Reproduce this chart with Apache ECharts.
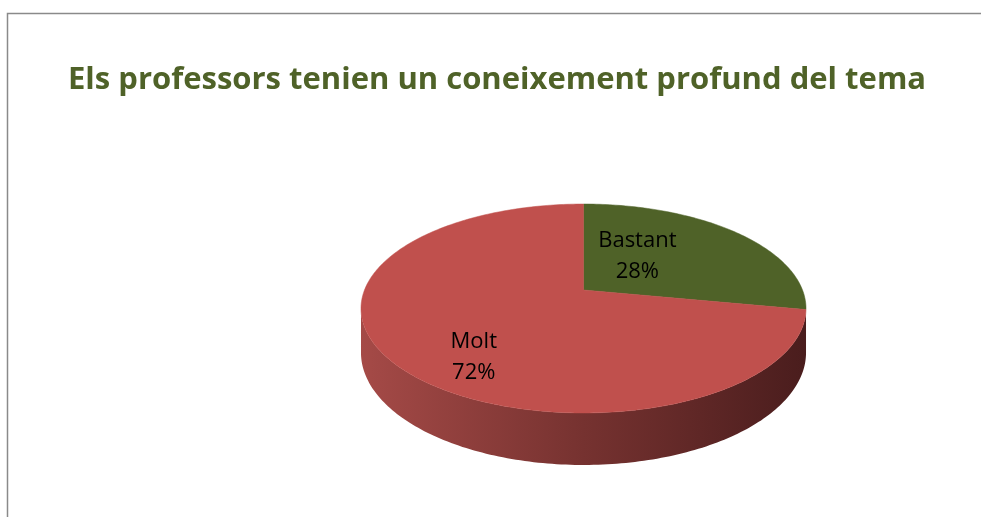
<!DOCTYPE html>
<html>
<head>
<meta charset="utf-8">
<script src="https://cdn.jsdelivr.net/npm/echarts@6/dist/echarts.min.js"></script>
<style>
  html, body { margin: 0; padding: 0; background: #fff; }
  #main { width: 981px; height: 517px; }
</style>
</head>
<body>
<div id="main"></div>
<script>
// dades del gràfic
var titleText = 'Els professors tenien un coneixement profund del tema';
var categories = ['Bastant', 'Molt'];
var values = [28, 72];

// estil
var sliceColors = ['#4F6228', '#C0504D'];
var wallColors = [['#5f7330', '#3d4c1e', '#252e12'], ['#a54a47', '#763230', '#4a1d1d']];
var labelShift = [[-38, 1], [-5, 27]];   // ajust de les etiquetes com a l'Excel

// geometria del pastís 3D (perspectiva)
var cx = 583.5, cy = 290;      // centre del pastís projectat
var A = 219, B = 101.2, K = 0.177, H = 42.8;

function proj(theta, r, down) {
    var t = theta * Math.PI / 180;
    var d = 1 + K * r * Math.cos(t);
    return [
        cx + A * r * Math.sin(t) / d,
        cy - B * r * Math.cos(t) / d + (down ? H / d : 0)
    ];
}

var total = values.reduce(function (a, b) { return a + b; }, 0);
var tan = Math.acos(-K) * 180 / Math.PI;   // punt on la paret es veu

var myChart = echarts.init(document.getElementById('main'));

function renderItem(params, api) {
    var idx = params.dataIndex;
    var before = 0;
    for (var i = 0; i < idx; i++) before += values[i];
    var start = before / total * 360;
    var end = (before + values[idx]) / total * 360;
    var children = [];

    // cara superior
    var top = [[cx, cy]];
    for (var a = start; a < end; a += 1) top.push(proj(a, 1));
    top.push(proj(end, 1));
    children.push({
        type: 'polygon',
        shape: { points: top },
        style: { fill: sliceColors[idx], stroke: sliceColors[idx], lineWidth: 0.5 },
        z2: 10
    });

    // paret frontal
    var s = Math.max(start, tan), e = Math.min(end, 360 - tan);
    if (e > s) {
        var wall = [];
        for (var b = s; b < e; b += 1) wall.push(proj(b, 1));
        wall.push(proj(e, 1));
        for (var c = e; c > s; c -= 1) wall.push(proj(c, 1, true));
        wall.push(proj(s, 1, true));
        var xl = proj(360 - tan, 1)[0], xr = proj(tan, 1)[0];
        children.push({
            type: 'polygon',
            shape: { points: wall },
            style: {
                fill: new echarts.graphic.LinearGradient(xl, 0, xr, 0, [
                    { offset: 0, color: wallColors[idx][0] },
                    { offset: 0.5, color: wallColors[idx][1] },
                    { offset: 1, color: wallColors[idx][2] }
                ], true)
            },
            z2: 0
        });
    }

    // etiqueta
    var mid = (start + end) / 2;
    var lp = proj(mid, 0.58);
    children.push({
        type: 'text',
        x: lp[0] + labelShift[idx][0],
        y: lp[1] + labelShift[idx][1],
        style: {
            text: categories[idx] + '\n' + Math.round(values[idx] / total * 100) + '%',
            fill: '#000',
            font: '22px "Open Sans"',
            align: 'center',
            verticalAlign: 'middle',
            lineHeight: 31
        },
        z2: 20
    });

    return { type: 'group', children: children };
}

var option = {
    backgroundColor: '#fff',
    animation: false,
    title: {
        text: titleText,
        left: 63,
        top: 60,
        textStyle: {
            fontFamily: 'Open Sans',
            fontWeight: 'bold',
            fontSize: 31,
            color: '#4F6228'
        }
    },
    graphic: [{
        type: 'rect',
        shape: { x: 7.5, y: 13.5, width: 1100, height: 700 },
        style: { fill: 'none', stroke: '#8a8a8a', lineWidth: 1.5 },
        silent: true
    }],
    series: [{
        type: 'custom',
        coordinateSystem: 'none',
        renderItem: renderItem,
        data: categories.map(function (n, i) { return { name: n, value: values[i] }; })
    }]
};
myChart.setOption(option, true);
window.onresize = myChart.resize;
</script>
</body>
</html>
